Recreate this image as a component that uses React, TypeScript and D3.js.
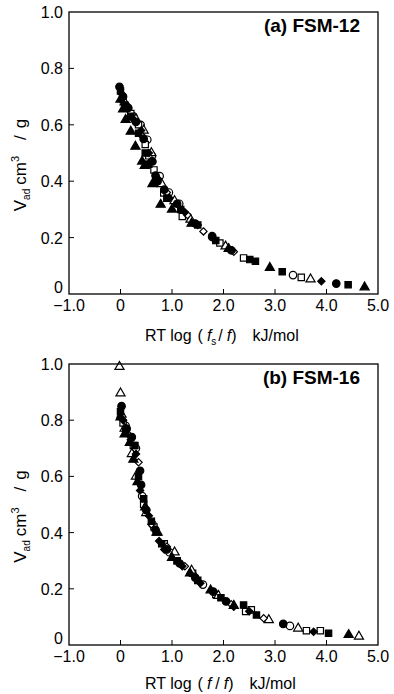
import React from "react";
import * as d3 from "d3";

type Pt = [number, number];

// Panel (a) FSM-12 series: [RT log(fs/f), Vad]
const a_filledCircle: Pt[] = [[-0.02,0.735],[0.05,0.70],[0.15,0.66],[0.3,0.61],[0.45,0.55],[0.62,0.47],[0.68,0.42],[0.72,0.40],[0.85,0.37],[1.1,0.32],[1.45,0.25],[1.78,0.202],[2.15,0.155],[4.19,0.037]];
const a_filledSquare: Pt[] = [[0.0,0.72],[0.08,0.67],[0.2,0.63],[0.35,0.57],[0.48,0.50],[0.55,0.46],[0.7,0.40],[0.9,0.34],[1.17,0.30],[1.5,0.245],[1.85,0.19],[2.51,0.122],[2.62,0.116],[3.14,0.079],[4.42,0.033]];
const a_filledTriangle: Pt[] = [[0.0,0.69],[0.05,0.655],[0.1,0.618],[0.2,0.576],[0.29,0.523],[0.42,0.47],[0.47,0.455],[0.62,0.39],[0.78,0.317],[1.0,0.30],[1.38,0.25],[2.1,0.16],[2.9,0.093],[4.74,0.024]];
const a_filledDiamond: Pt[] = [[0.02,0.71],[0.12,0.66],[0.25,0.62],[0.4,0.58],[0.55,0.50],[0.72,0.41],[0.95,0.34],[1.25,0.29],[1.5,0.245],[2.17,0.155],[3.9,0.045]];
const a_openCircle: Pt[] = [[0.1,0.67],[0.25,0.63],[0.39,0.60],[0.52,0.547],[0.61,0.49],[0.76,0.418],[0.94,0.36],[1.14,0.32],[1.78,0.205],[3.35,0.067]];
const a_openSquare: Pt[] = [[0.05,0.69],[0.2,0.64],[0.35,0.60],[0.48,0.53],[0.55,0.49],[0.65,0.44],[0.84,0.358],[1.2,0.275],[1.93,0.181],[2.39,0.128],[3.51,0.059]];
const a_openTriangle: Pt[] = [[0.08,0.68],[0.3,0.62],[0.45,0.58],[0.6,0.50],[0.8,0.39],[1.05,0.33],[1.36,0.264],[2.04,0.169],[3.69,0.052]];
const a_openDiamond: Pt[] = [[0.15,0.66],[0.42,0.56],[0.58,0.47],[0.9,0.36],[1.3,0.28],[1.61,0.222],[2.2,0.15]];

// Panel (b) FSM-16 series
const b_filledCircle: Pt[] = [[0.02,0.85],[0.12,0.77],[0.22,0.74],[0.38,0.62],[0.4,0.57],[0.5,0.48],[0.68,0.41],[0.9,0.34],[1.15,0.29],[1.45,0.24],[1.8,0.19],[2.05,0.155],[3.16,0.075]];
const b_filledSquare: Pt[] = [[0.0,0.83],[0.1,0.76],[0.28,0.71],[0.35,0.60],[0.45,0.52],[0.6,0.44],[0.8,0.36],[1.1,0.30],[1.5,0.23],[1.95,0.168],[2.39,0.142],[2.64,0.107],[4.04,0.042]];
const b_filledTriangle: Pt[] = [[0.0,0.81],[0.08,0.75],[0.18,0.72],[0.25,0.66],[0.33,0.58],[0.48,0.49],[0.7,0.40],[1.0,0.31],[1.35,0.255],[1.75,0.195],[2.2,0.14],[4.43,0.036]];
const b_filledDiamond: Pt[] = [[0.05,0.80],[0.2,0.73],[0.3,0.68],[0.38,0.55],[0.55,0.46],[0.75,0.37],[0.85,0.34],[1.2,0.28],[1.55,0.22],[2.2,0.136],[2.5,0.12],[3.75,0.047]];
const b_openCircle: Pt[] = [[0.1,0.78],[0.3,0.70],[0.42,0.53],[0.62,0.43],[0.95,0.33],[1.6,0.215],[3.29,0.068]];
const b_openSquare: Pt[] = [[0.05,0.79],[0.25,0.71],[0.45,0.50],[0.65,0.42],[0.85,0.36],[1.1,0.30],[1.4,0.255],[1.85,0.18],[2.43,0.119],[2.54,0.125],[3.61,0.051],[3.88,0.051]];
const b_openTriangle: Pt[] = [[-0.02,0.99],[0.0,0.896],[0.02,0.82],[0.08,0.77],[0.22,0.68],[0.3,0.60],[0.5,0.47],[0.72,0.40],[1.05,0.33],[1.38,0.265],[1.9,0.175],[2.88,0.089],[3.45,0.059],[4.63,0.03]];
const b_openDiamond: Pt[] = [[0.15,0.75],[0.35,0.65],[0.6,0.43],[0.9,0.35],[1.25,0.28],[2.15,0.145],[2.78,0.095]];

const xTicks = [-1, 0, 1, 2, 3, 4, 5];
const xTickLabels = ["\u22121.0", "0", "1.0", "2.0", "3.0", "4.0", "5.0"];
const yTicks = [0, 0.2, 0.4, 0.6, 0.8, 1.0];
const yTickLabels = ["0", "0.2", "0.4", "0.6", "0.8", "1.0"];

type Shape = "circle" | "square" | "triangle" | "diamond";
interface Series { data: Pt[]; shape: Shape; filled: boolean; }

const panelA: Series[] = [
  { data: a_openCircle, shape: "circle", filled: false },
  { data: a_openSquare, shape: "square", filled: false },
  { data: a_openTriangle, shape: "triangle", filled: false },
  { data: a_openDiamond, shape: "diamond", filled: false },
  { data: a_filledCircle, shape: "circle", filled: true },
  { data: a_filledSquare, shape: "square", filled: true },
  { data: a_filledTriangle, shape: "triangle", filled: true },
  { data: a_filledDiamond, shape: "diamond", filled: true },
];
const panelB: Series[] = [
  { data: b_openCircle, shape: "circle", filled: false },
  { data: b_openSquare, shape: "square", filled: false },
  { data: b_openTriangle, shape: "triangle", filled: false },
  { data: b_openDiamond, shape: "diamond", filled: false },
  { data: b_filledCircle, shape: "circle", filled: true },
  { data: b_filledSquare, shape: "square", filled: true },
  { data: b_filledTriangle, shape: "triangle", filled: true },
  { data: b_filledDiamond, shape: "diamond", filled: true },
];

const FONT = "'Liberation Sans', Arial, sans-serif";

function symbolPath(shape: Shape): string {
  if (shape === "circle") return d3.symbol(d3.symbolCircle, 44)() as string;
  if (shape === "square") return d3.symbol(d3.symbolSquare, 40)() as string;
  if (shape === "triangle") return d3.symbol(d3.symbolTriangle, 36)() as string;
  return d3.symbol(d3.symbolDiamond2, 34)() as string;
}

function Panel({ top, bottom, label, series, sub, titleY }: { top: number; bottom: number; label: string; series: Series[]; sub: boolean; titleY: number }) {
  const left = 69, right = 378;
  const x = d3.scaleLinear().domain([-1, 5]).range([left, right]);
  const y = d3.scaleLinear().domain([0, 1]).range([bottom, top]);
  const midY = (top + bottom) / 2;
  return (
    <g>
      {series.map((s, i) => (
        <g key={i}>
          {s.data.map((p, j) => (
            <path
              key={j}
              d={symbolPath(s.shape)}
              transform={`translate(${x(p[0])},${y(p[1])})`}
              fill={s.filled ? "#000" : "#fff"}
              stroke="#000"
              strokeWidth={1.2}
            />
          ))}
        </g>
      ))}
      <rect x={left} y={top} width={right - left} height={bottom - top} fill="none" stroke="#000" strokeWidth={1.3} />
      {xTicks.map((t, i) => (
        <g key={"xt" + i}>
          {t > -1 && t < 5 && <line x1={x(t)} x2={x(t)} y1={bottom} y2={bottom - 5} stroke="#000" strokeWidth={1} />}
          <text x={x(t)} y={bottom + 17} textAnchor="middle" fontFamily={FONT} fontSize={16}>{xTickLabels[i]}</text>
        </g>
      ))}
      {yTicks.map((t, i) => (
        <g key={"yt" + i}>
          {t > 0 && t < 1 && <line x1={left} x2={left + 5} y1={y(t)} y2={y(t)} stroke="#000" strokeWidth={1} />}
          <text x={left - 6} y={y(t) + 6 - (t === 0 ? 7 : 0)} textAnchor="end" fontFamily={FONT} fontSize={16}>{yTickLabels[i]}</text>
        </g>
      ))}
      <text x={360} y={top + 20} textAnchor="end" fontFamily={FONT} fontSize={19} fontWeight="bold">{label}</text>
      <text x={145} y={titleY} fontFamily={FONT} fontSize={16}>
        <tspan>RT log</tspan>
        <tspan dx={6}>(</tspan>
        <tspan dx={4} fontStyle="italic">f</tspan>
        <tspan fontSize={10} dy={4}>{sub ? "s" : "\u2009"}</tspan>
        <tspan dy={-4} dx={2}>/</tspan>
        <tspan dx={4} fontStyle="italic">f</tspan>
        <tspan>)</tspan>
        <tspan dx={16}>kJ/mol</tspan>
      </text>
      <text transform={`translate(26,${midY + 12}) rotate(-90)`} textAnchor="middle" fontFamily={FONT} fontSize={17}>
        <tspan>V</tspan>
        <tspan fontSize={10} dy={4}>ad</tspan>
        <tspan dy={-4} dx={4}>cm</tspan>
        <tspan fontSize={11} dy={-7}>3</tspan>
        <tspan dy={7} dx={16}>/</tspan>
        <tspan dx={7}>g</tspan>
      </text>
    </g>
  );
}

export default function App() {
  return (
    <svg width={394} height={694} style={{ position: "absolute", left: 0, top: 0, background: "#fff" }}>
      <rect width={394} height={694} fill="#fff" />
      <Panel top={12} bottom={294} label="(a) FSM-12" series={panelA} sub={true} titleY={341} />
      <Panel top={364} bottom={645} label="(b) FSM-16" series={panelB} sub={false} titleY={689} />
    </svg>
  );
}
